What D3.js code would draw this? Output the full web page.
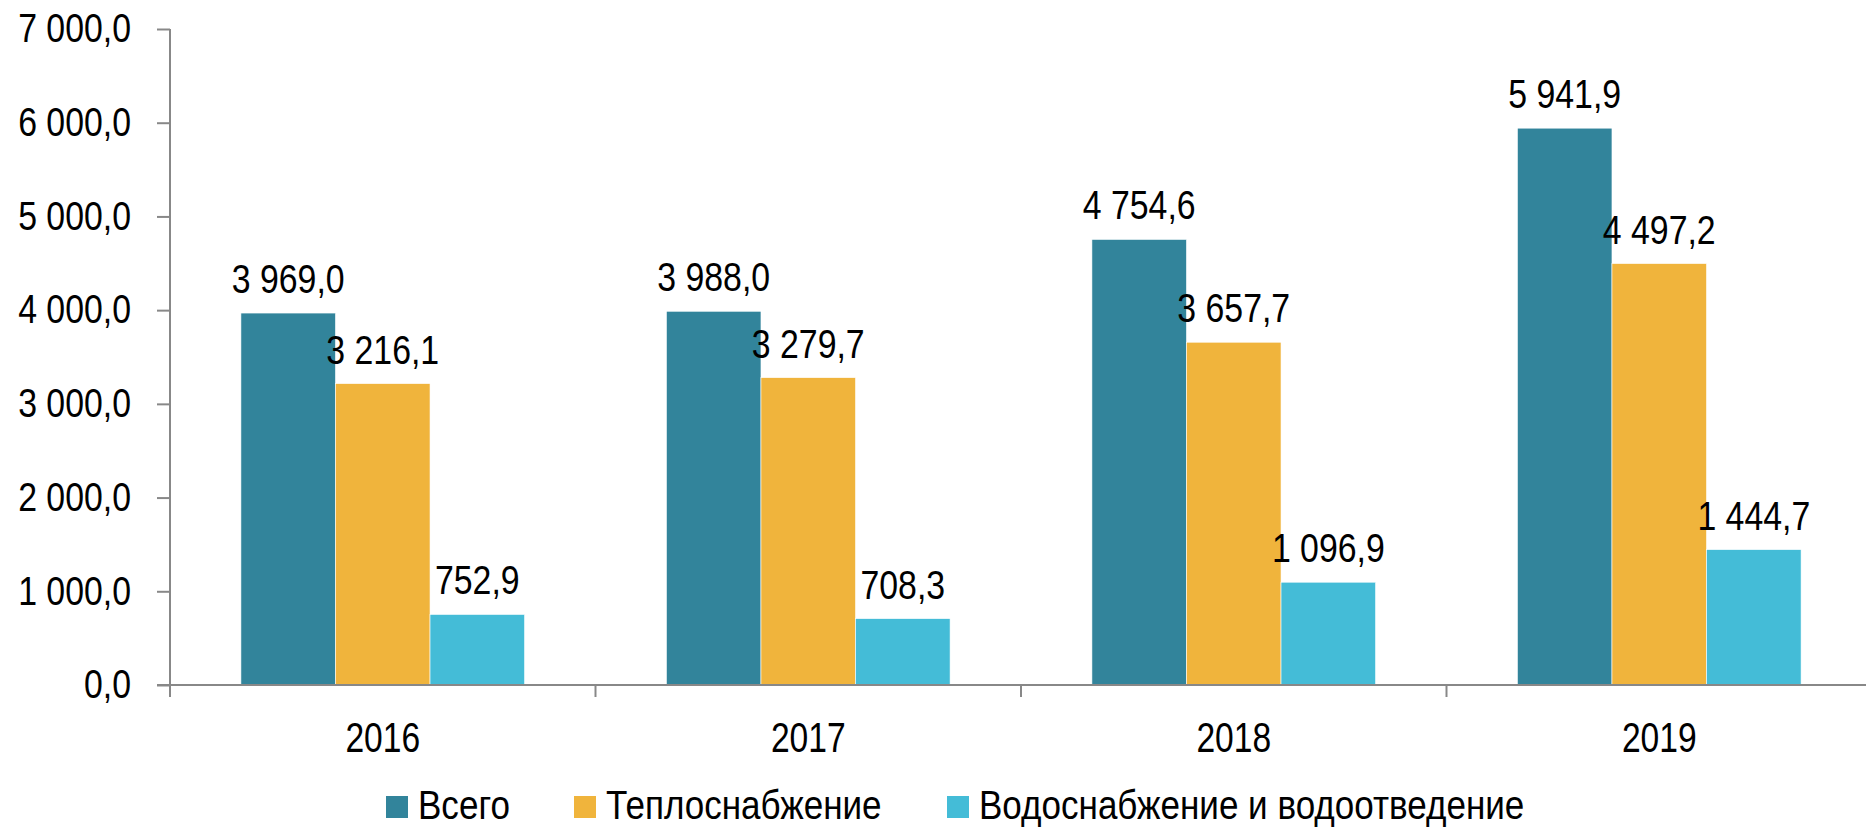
<!DOCTYPE html>
<html>
<head>
<meta charset="utf-8">
<script src="https://cdn.jsdelivr.net/npm/d3@7"></script>
<style>
  html, body { margin: 0; padding: 0; background: #fff; }
  svg { display: block; }
  text { font-family: "Liberation Sans Narrow", "Arial Narrow", "Liberation Sans", Arial, sans-serif; fill: #000; }
</style>
</head>
<body>
<svg id="chart" width="1866" height="829"></svg>
<script>
const categories = ["2016", "2017", "2018", "2019"];
const seriesNames = ["Всего", "Теплоснабжение", "Водоснабжение и водоотведение"];
const seriesColors = ["#32849B", "#F0B43C", "#44BCD7"];
const vsego = [3969.0, 3988.0, 4754.6, 5941.9];
const teplo = [3216.1, 3279.7, 3657.7, 4497.2];
const vodo = [752.9, 708.3, 1096.9, 1444.7];
const yTicks = [0, 1000, 2000, 3000, 4000, 5000, 6000, 7000];

const seriesValues = [vsego, teplo, vodo];

const locale = d3.formatLocale({decimal: ",", thousands: " ", grouping: [3], currency: ["", ""]});
const fmt = locale.format(",.1f");

// Condensed look: horizontal squeeze of text around its anchor point
function condense(sel, s) {
  sel.each(function () {
    const t = d3.select(this);
    const x = +t.attr("x") || 0, y = +t.attr("y") || 0;
    t.attr("x", 0).attr("y", 0).attr("transform", `translate(${x},${y}) scale(${s},1)`);
  });
}

const svg = d3.select("#chart");
const plotLeft = 170, plotRight = 1872, plotTop = 29, plotBottom = 685;
const squeeze = 0.825;

const x0 = d3.scaleBand().domain(categories).range([plotLeft, plotRight]).paddingInner(1/3).paddingOuter(1/6);
const xGrid = d3.scaleBand().domain(categories).range([plotLeft, plotRight]).padding(0);
const x1 = d3.scaleBand().domain(d3.range(seriesNames.length)).range([0, x0.bandwidth()]).padding(0);
const y = d3.scaleLinear().domain([0, 7000]).range([plotBottom, plotTop]);

// bars
const groups = svg.append("g").selectAll("g").data(categories).join("g")
  .attr("transform", d => `translate(${x0(d)},0)`);

groups.selectAll("rect")
  .data((d, i) => seriesValues.map((s, k) => ({k, v: s[i]})))
  .join("rect")
  .attr("x", d => x1(d.k))
  .attr("width", x1.bandwidth())
  .attr("y", d => y(d.v))
  .attr("height", d => y(0) - y(d.v))
  .attr("fill", d => seriesColors[d.k])
  .attr("stroke", "#fff")
  .attr("stroke-width", 0.6);

const vals = groups.selectAll("text.val")
  .data((d, i) => seriesValues.map((s, k) => ({k, v: s[i]})))
  .join("text")
  .attr("class", "val")
  .attr("x", d => x1(d.k) + x1.bandwidth() / 2)
  .attr("y", d => y(d.v) - 20)
  .attr("text-anchor", "middle")
  .style("font-size", "41px")
  .text(d => fmt(d.v));
condense(vals, squeeze);

// y axis
const yAxis = d3.axisLeft(y).tickValues(yTicks).tickSize(13).tickPadding(26).tickFormat(fmt);
const gy = svg.append("g").attr("transform", `translate(${plotLeft},0)`).call(yAxis);
gy.select(".domain").attr("stroke", "#888").attr("stroke-width", 2).attr("d", `M0,${plotTop}V${plotBottom}`);
gy.selectAll(".tick line").attr("stroke", "#888").attr("stroke-width", 2);
const yl = gy.selectAll(".tick text").style("font-size", "41px").attr("dy", "0.31em").attr("fill", "#000");
condense(yl, squeeze);

// x axis line and category ticks
const xg = svg.append("g");
xg.append("line").attr("x1", plotLeft - 13).attr("x2", 1866).attr("y1", plotBottom).attr("y2", plotBottom)
  .attr("stroke", "#888").attr("stroke-width", 2);
xg.selectAll("line.tk").data(categories).join("line").attr("class", "tk")
  .attr("x1", d => xGrid(d)).attr("x2", d => xGrid(d))
  .attr("y1", plotBottom).attr("y2", plotBottom + 12)
  .attr("stroke", "#888").attr("stroke-width", 2);
const cl = xg.selectAll("text.cat").data(categories).join("text").attr("class", "cat")
  .attr("x", d => xGrid(d) + xGrid.bandwidth() / 2)
  .attr("y", 752)
  .attr("text-anchor", "middle")
  .style("font-size", "42px")
  .text(d => d);
condense(cl, 0.8);

// legend
const legendX = [386, 574, 947];
const lg = svg.append("g").selectAll("g").data(seriesNames).join("g")
  .attr("transform", (d, i) => `translate(${legendX[i]},0)`);
lg.append("rect").attr("x", 0).attr("y", 796).attr("width", 22).attr("height", 22)
  .attr("fill", (d, i) => seriesColors[i]);
const lt = lg.append("text").attr("x", 32).attr("y", 819).style("font-size", "41px").text(d => d);
condense(lt, 0.855);
</script>
</body>
</html>
